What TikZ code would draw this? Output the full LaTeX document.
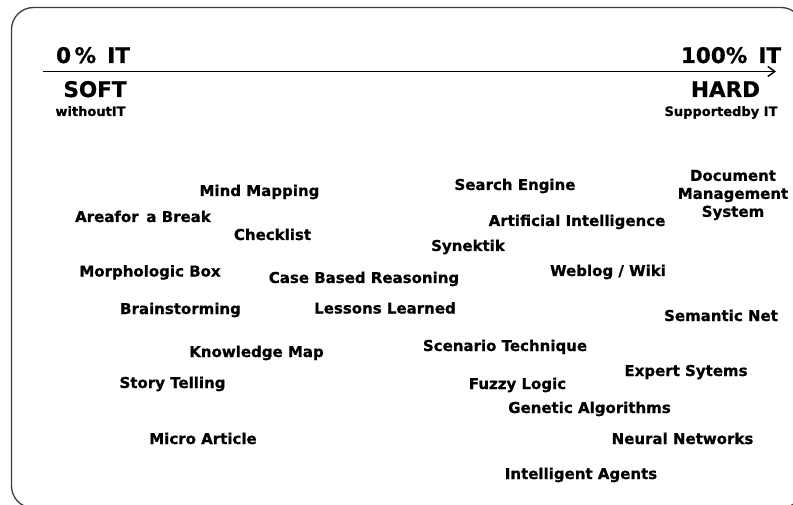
\documentclass[tikz,border=0pt]{standalone}
\usepackage{fontspec}
\setmainfont{DejaVu Sans}[BoldFeatures={FakeBold=0.8}]
\usetikzlibrary{arrows.meta}
\definecolor{framegray}{HTML}{3C3C3C}
\tikzset{
  item/.style={anchor=base, inner sep=0pt, font=\fontsize{15}{18}\selectfont\bfseries},
  head/.style={anchor=base, inner sep=0pt, font=\fontsize{21.5}{24}\selectfont\bfseries},
  sub/.style={anchor=base, inner sep=0pt, font=\fontsize{13}{15}\selectfont\bfseries},
  axis/.style={line width=1.6pt, -{Straight Barb[length=7pt,width=10pt,line width=1.4pt]}},
  frame/.style={draw=framegray, line width=1.3pt, rounded corners=22pt}
}
\begin{document}
\begin{tikzpicture}[x=1pt,y=-1pt]
\useasboundingbox (0,0) rectangle (793,505);
\begin{scope}
\clip (0,0) rectangle (793,505);
\draw[frame] (11.5,7.5) rectangle (803,508);
\end{scope}
% axis
\coordinate (a0) at (43,71.5);
\coordinate (a1) at (776,71.5);
\draw[axis] (a0) -- (a1);
\node[head] (zero) at (93,63) {0\,\%\, IT};
\node[head] (hundred) at (731,63) {100\%\, IT};
\node[head] (soft) at (95,97) {SOFT};
\node[head] (hard) at (725.5,97) {HARD};
\node[sub] (without) at (90.5,116) {withoutIT};
\node[sub] (supported) at (721,116) {Supportedby IT};
% items
\node[item] (mind) at (259.5,196) {Mind Mapping};
\node[item] (area) at (143,222) {Areafor\, a Break};
\node[item] (check) at (272.5,240) {Checklist};
\node[item] (morph) at (150,276.5) {Morphologic Box};
\node[item] (cbr) at (364,283) {Case Based Reasoning};
\node[item] (brain) at (180.5,314) {Brainstorming};
\node[item] (lessons) at (385,313.5) {Lessons Learned};
\node[item] (kmap) at (256.5,357) {Knowledge Map};
\node[item] (story) at (172.5,388) {Story Telling};
\node[item] (micro) at (203,444) {Micro Article};
\node[item] (search) at (515,190) {Search Engine};
\node[item] (ai) at (577,226) {Artificial Intelligence};
\node[item] (synektik) at (468,251) {Synektik};
\node[item] (weblog) at (608,276) {Weblog / Wiki};
\node[item, anchor=center, align=center] (dms) at (733,195) {Document\\Management\\System};
\node[item] (semantic) at (721,321) {Semantic Net};
\node[item] (scenario) at (505,351) {Scenario Technique};
\node[item] (expert) at (686,376) {Expert Sytems};
\node[item] (fuzzy) at (517.5,389) {Fuzzy Logic};
\node[item] (genetic) at (589.5,413) {Genetic Algorithms};
\node[item] (neural) at (682.5,444) {Neural Networks};
\node[item] (agents) at (581,479) {Intelligent Agents};
\end{tikzpicture}
\end{document}
